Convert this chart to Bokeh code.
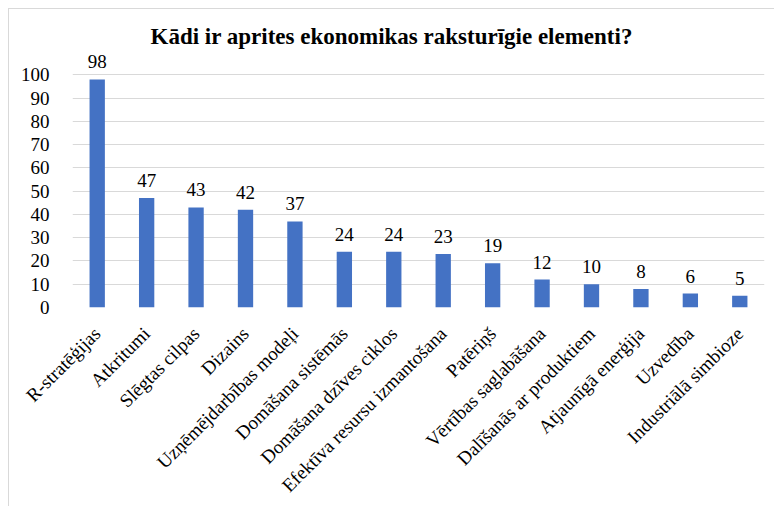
import math
from bokeh.plotting import figure
from bokeh.models import ColumnDataSource, LabelSet, FixedTicker, Range1d, Title
from bokeh.embed import file_html
from bokeh.resources import INLINE

title_text = "Kādi ir aprites ekonomikas raksturīgie elementi?"
categories = [
    "R-stratēģijas", "Atkritumi", "Slēgtas cilpas", "Dizains",
    "Uzņēmējdarbības modeļi", "Domāšana sistēmās", "Domāšana dzīves ciklos",
    "Efektīva resursu izmantošana", "Patēriņš", "Vērtības saglabāšana",
    "Dalīšanās ar produktiem", "Atjaunīgā enerģija", "Uzvedība",
    "Industriālā simbioze",
]
values = [98, 47, 43, 42, 37, 24, 24, 23, 19, 12, 10, 8, 6, 5]
y_ticks = [0, 10, 20, 30, 40, 50, 60, 70, 80, 90, 100]

FONT = "Liberation Serif"
src = ColumnDataSource(dict(cat=categories, val=values, lab=[str(v) for v in values]))

p = figure(x_range=categories, y_range=Range1d(0, 110), frame_width=692, frame_height=256,
           output_backend="svg", toolbar_location=None,
           min_border_left=72, min_border_right=10, min_border_top=51, min_border_bottom=199)
p.border_fill_color = None
p.background_fill_color = None
p.styles = {
    "background": "linear-gradient(#d9d9d9, #d9d9d9) 8px 8px / 1px 100% no-repeat, "
                  "linear-gradient(#d9d9d9, #d9d9d9) 8px 8px / 100% 1px no-repeat, #ffffff"
}

p.vbar(x="cat", top="val", width=0.31, source=src, fill_color="#4472C4", line_color=None)

labels = LabelSet(x="cat", y="val", text="lab", source=src, text_align="center",
                  text_baseline="bottom", y_offset=11, text_font=FONT,
                  text_font_size="19px", text_color="#000000")
p.add_layout(labels)

t = Title(text=title_text, text_font=FONT, text_font_size="23px", text_font_style="bold",
          align="left", offset=78, standoff=6, text_color="#000000")
p.add_layout(t, "above")

p.outline_line_color = None
p.xgrid.grid_line_color = None
p.ygrid.grid_line_color = "#d9d9d9"
p.ygrid.grid_line_width = 1
p.yaxis.ticker = FixedTicker(ticks=y_ticks)
p.yaxis.axis_line_color = None
p.yaxis.major_tick_line_color = None
p.yaxis.minor_tick_line_color = None
p.yaxis.major_label_standoff = 17
p.yaxis.major_label_text_font = FONT
p.yaxis.major_label_text_font_size = "19px"
p.yaxis.major_label_text_color = "#000000"

p.xaxis.axis_line_color = None
p.xaxis.major_tick_line_color = None
p.xaxis.minor_tick_line_color = None
p.xaxis.major_label_orientation = math.pi / 4
p.xaxis.major_label_standoff = 17
p.xaxis.major_label_text_font = FONT
p.xaxis.major_label_text_font_size = "19px"
p.xaxis.major_label_text_color = "#000000"

open("out.html", "w").write(file_html(p, INLINE))
